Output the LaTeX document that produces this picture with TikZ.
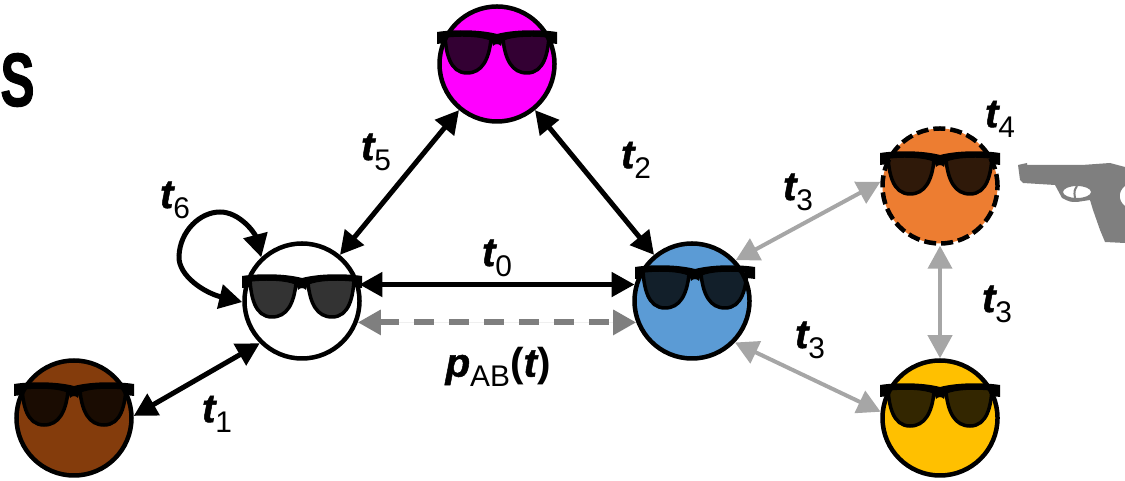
\documentclass[tikz,border=0pt]{standalone}
\usepackage{fontspec}
\setmainfont{Liberation Sans}
\usetikzlibrary{arrows.meta}

\definecolor{pinkface}{HTML}{FF00FF}
\definecolor{brownface}{HTML}{843C0C}
\definecolor{blueface}{HTML}{5B9BD5}
\definecolor{orangeface}{HTML}{ED7D31}
\definecolor{yellowface}{HTML}{FFC000}
\definecolor{lightlink}{HTML}{A6A6A6}
\definecolor{gunshade}{HTML}{7F7F7F}

\newcommand{\heavy}[1]{{\bfseries\itshape\addfontfeature{FakeBold=1.2}#1}}
\newcommand{\low}[1]{\raisebox{-0.2cm}{\fontsize{17}{20}\selectfont #1}}
\newcommand{\tlab}[1]{\heavy{t}\low{#1}}

\tikzset{
    face/.style={circle, draw=black, line width=0.09cm, minimum size=2.3cm, inner sep=0pt},
    link/.style={{Triangle[length=0.46cm,width=0.48cm]}-{Triangle[length=0.46cm,width=0.48cm]}, line width=0.1cm},
    faint/.style={link, draw=lightlink, fill=lightlink, line width=0.08cm},
    lab/.style={font=\fontsize{23}{26}\selectfont, inner sep=0pt},
    shades/.pic={
        % top bar, arm ends and bridge
        \fill[black] (-1.2,0.5) .. controls (-0.8,0.56) and (-0.3,0.54) .. (0,0.46)
            .. controls (0.3,0.54) and (0.8,0.56) .. (1.2,0.5)
            -- (1.2,0.26) -- (1.04,0.28) -- (1.04,0.42)
            .. controls (0.7,0.46) and (0.3,0.44) .. (0.12,0.36)
            -- (0.08,0.22) .. controls (0.04,0.27) and (-0.04,0.27) .. (-0.08,0.22)
            -- (-0.12,0.36) .. controls (-0.3,0.44) and (-0.7,0.46) .. (-1.04,0.42)
            -- (-1.04,0.28) -- (-1.2,0.26) -- cycle;
        \foreach \s in {-1,1}
            \draw[xscale=\s, line width=0.07cm, fill=black, fill opacity=0.8]
                (1.04,0.42) .. controls (0.7,0.46) and (0.3,0.44) .. (0.12,0.36)
                .. controls (0.16,-0.05) and (0.3,-0.32) .. (0.6,-0.32)
                .. controls (0.95,-0.32) and (1.02,0.1) .. (1.04,0.42) -- cycle;
    }
}

\begin{document}
\begin{tikzpicture}
    \useasboundingbox (0,0) rectangle (22.5,9.62);

    \node[lab, font=\fontsize{43}{46}\selectfont, xscale=0.68] (cutletter) at (0.35,8.02) {\bfseries\addfontfeature{FakeBold=1.5}S};

    \node[face, fill=white] (white) at (6.04,3.6) {};
    \node[face, fill=pinkface] (pink) at (9.94,8.34) {};
    \node[face, fill=blueface] (blue) at (13.84,3.6) {};
    \node[face, fill=orangeface, dash pattern=on 0.24cm off 0.1cm] (orange) at (18.8,5.9) {};
    \node[face, fill=yellowface] (yellow) at (18.8,1.26) {};
    \node[face, fill=brownface] (brown) at (1.48,1.26) {};

    \foreach \who/\dx/\dy in {white/0/0,pink/0/0.14,blue/0.06/0.18,orange/0/0.16,yellow/0/0.16,brown/0/0.18}
        \pic at ([shift={(\dx,\dy)}]\who.center) {shades};

    % black links
    \draw[link] (white) -- (pink);
    \draw[link] (pink) -- (blue);
    \draw[link] (white.16) -- (blue.164);
    \draw[link] (brown.2) -- (white.225);
    \draw[link]
        (white.181) .. controls (4.1,3.76) and (3.56,4.1) .. (3.58,4.5)
        .. controls (3.6,5) and (4.0,5.38) .. (4.4,5.38)
        .. controls (4.8,5.38) and (5.1,4.95) .. (white.133);

    % grey links
    \draw[link, draw=gunshade, fill=gunshade, line width=0.12cm, dash pattern=on 0.4cm off 0.3cm] (white.-21) -- (blue.-159);
    \draw[faint] (blue.43) -- (orange.176);
    \draw[faint] (blue.-44) -- (yellow.174);
    \draw[faint] (orange) -- (yellow);

    \node[lab] (tfive) at (7.52,6.58) {\tlab{5}};
    \node[lab] (tsix) at (3.5,5.62) {\tlab{6}};
    \node[lab] (tzero) at (9.94,4.46) {\tlab{0}};
    \node[lab] (tone) at (4.34,1.34) {\tlab{1}};
    \node[lab] (ttwo) at (12.72,6.42) {\tlab{2}};
    \node[lab] (tthreeA) at (15.96,5.78) {\tlab{3}};
    \node[lab] (tthreeB) at (19.94,3.54) {\tlab{3}};
    \node[lab] (tthreeC) at (16.2,2.82) {\tlab{3}};
    \node[lab] (tfour) at (20,7.24) {\tlab{4}};
    \node[lab] (pab) at (9.96,2.28) {\heavy{p}\low{AB}{\bfseries(}\heavy{t}{\bfseries)}};

    % gun
    \fill[gunshade, even odd rule]
        (20.36,6.32) -- (20.4,6.02) -- (20.46,5.96) -- (21.1,5.92) -- (21.24,5.66)
        .. controls (21.4,5.58) .. (21.54,5.58) -- (21.8,5.62) -- (21.86,5.42)
        -- (22,5.02) -- (22.1,4.78) -- (22.5,4.76) -- (22.5,5.5)
        .. controls (22.36,5.6) and (22.36,5.8) .. (22.5,5.9)
        -- (22.5,6.28) -- (22.2,6.36) -- (21.64,6.32) -- (20.54,6.32) -- (20.54,6.36) -- cycle
        (21.54,5.78) ellipse (0.28 and 0.12);
    \draw[gunshade, line width=0.04cm] (21.54,5.9) .. controls (21.48,5.8) .. (21.5,5.66);
\end{tikzpicture}
\end{document}
